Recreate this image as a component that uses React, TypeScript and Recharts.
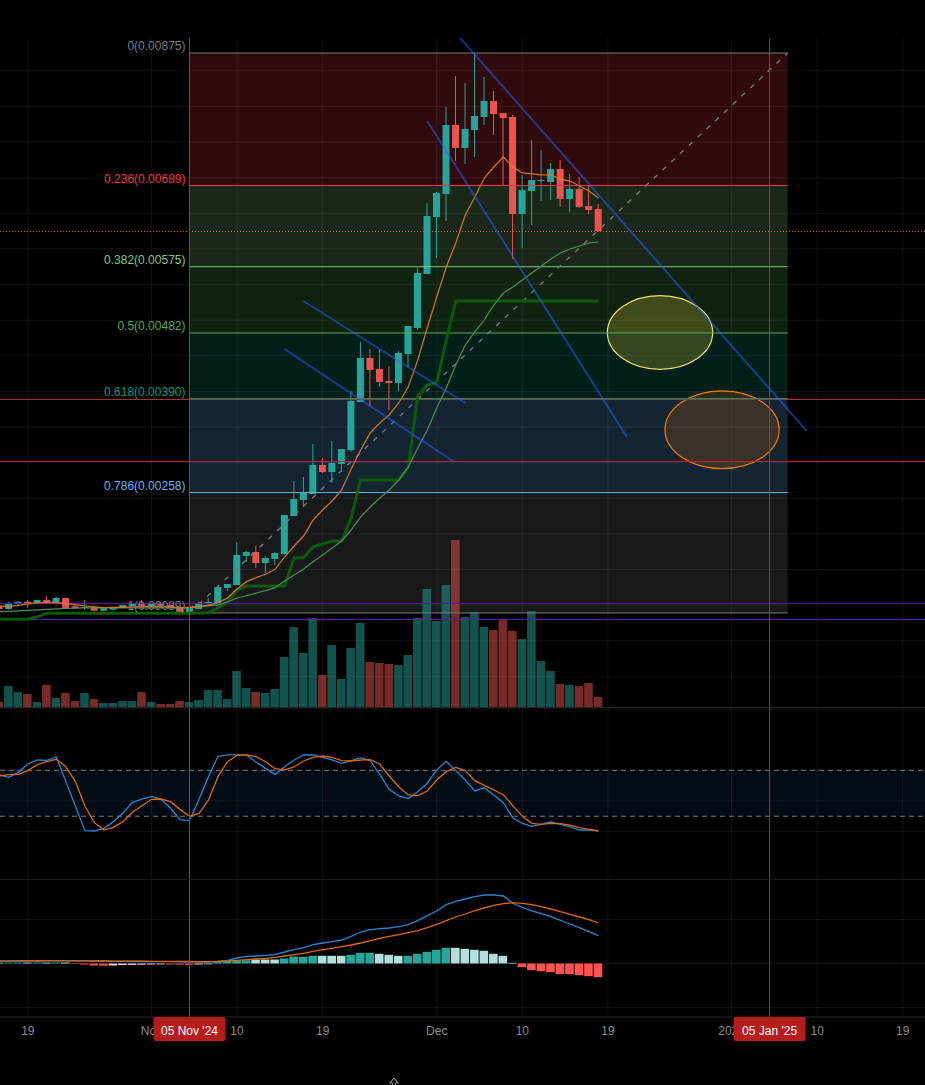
import React from "react";
import {
  Bar,
  CartesianGrid,
  Cell,
  ComposedChart,
  Line,
  ReferenceArea,
  ReferenceDot,
  ReferenceLine,
  XAxis,
  YAxis,
} from "recharts";

// Day offset from 05 Nov '24 for every daily candle
const days = [
  -20, -19, -18, -17, -16, -15, -14, -13, -12, -11,
  -10, -9, -8, -7, -6, -5, -4, -3, -2, -1,
  0, 1, 2, 3, 4, 5, 6, 7, 8, 9,
  10, 11, 12, 13, 14, 15, 16, 17, 18, 19,
  20, 21, 22, 23, 24, 25, 26, 27, 28, 29,
  30, 31, 32, 33, 34, 35, 36, 37, 38, 39,
  40, 41, 42, 43,
];

// Prices in millionths (6251 = 0.006251)
const opens = [
  988, 946, 1020, 1048, 1016, 1072, 1044, 1100, 984, 960,
  974, 922, 936, 960, 988, 1030, 984, 1016, 1002, 974,
  904, 946, 1030, 1030, 1240, 1282, 1690, 1746, 1591, 1647,
  1718, 2251, 2475, 2560, 2967, 2868, 2981, 3177, 3851, 4469,
  4314, 4146, 4118, 4525, 4890, 5648, 6448, 6771, 7739, 7417,
  7669, 7852, 8076, 7908, 7852, 6490, 6813, 6953, 6939, 7122,
  6701, 6841, 6602, 6560,
];
const highs = [
  1002, 1048, 1058, 1072, 1072, 1128, 1128, 1100, 1016, 1072,
  988, 956, 974, 1002, 1030, 1072, 1020, 1044, 1002, 974,
  960, 1053, 1100, 1254, 1296, 1886, 1760, 1830, 1689, 1746,
  2265, 2742, 2798, 3262, 3065, 3304, 3191, 4006, 4693, 4595,
  4595, 4356, 4567, 4918, 5732, 6644, 6799, 7992, 8427, 8329,
  8736, 8413, 8217, 7908, 7880, 7038, 7529, 7388, 7206, 7248,
  7052, 7010, 6897, 6630,
];
const lows = [
  932, 936, 984, 964, 1016, 1016, 1034, 960, 942, 932,
  914, 922, 922, 960, 988, 978, 984, 964, 960, 904,
  904, 946, 1002, 1030, 1198, 1282, 1605, 1521, 1451, 1563,
  1704, 2251, 2377, 2560, 2854, 2714, 2868, 3149, 3851, 3795,
  4062, 3739, 4006, 4342, 4862, 5648, 5872, 6392, 7234, 7192,
  7290, 7739, 7599, 6897, 5858, 6013, 6336, 6673, 6687, 6588,
  6518, 6574, 6490, 6237,
];
const closes = [
  946, 1030, 1044, 1020, 1072, 1044, 1100, 960, 960, 974,
  922, 956, 974, 1002, 1030, 992, 1016, 992, 960, 904,
  960, 1030, 1044, 1254, 1296, 1703, 1746, 1591, 1661, 1732,
  2265, 2489, 2574, 2967, 2868, 2995, 3191, 3865, 4469, 4300,
  4132, 4118, 4539, 4918, 5662, 6462, 6785, 7739, 7417, 7683,
  7866, 8076, 7894, 7838, 6490, 6827, 6967, 6967, 7122, 6701,
  6841, 6588, 6546, 6251,
];
const volumes = [
  5, 21, 15, 13, 5, 22, 9, 14, 6, 14,
  8, 4, 4, 6, 6, 15, 5, 3, 3, 6,
  5, 7, 17, 17, 8, 36, 19, 15, 14, 18,
  50, 80, 54, 89, 32, 62, 28, 59, 84, 45,
  44, 43, 42, 52, 89, 118, 86, 122, 167, 90,
  95, 80, 77, 88, 76, 68, 96, 46, 36, 23,
  22, 21, 24, 10,
];
const fastMa = [
  988, 978, 995, 1016, 1030, 1040, 1033, 1026, 1006, 988,
  974, 964, 967, 970, 974, 978, 978, 978, 971, 964,
  970, 981, 998, 1034, 1100, 1226, 1329, 1385, 1433, 1503,
  1676, 1830, 1970, 2195, 2335, 2462, 2616, 2911, 3177, 3416,
  3556, 3669, 3837, 4062, 4441, 4890, 5325, 5746, 6083, 6476,
  6729, 6995, 7150, 7290, 7150, 7066, 7052, 7038, 7038, 6981,
  6953, 6883, 6813, 6715,
];
const slowMa = [
  908, 913, 918, 925, 932, 939, 946, 953, 957, 960,
  960, 960, 960, 960, 960, 960, 960, 960, 960, 960,
  964, 974, 988, 1002, 1044, 1100, 1132, 1170, 1203, 1245,
  1339, 1423, 1507, 1610, 1704, 1802, 1900, 2055, 2237, 2377,
  2504, 2616, 2756, 2939, 3206, 3458, 3767, 4048, 4371, 4652,
  4834, 5002, 5213, 5381, 5466, 5564, 5662, 5760, 5858, 5943,
  5999, 6041, 6083, 6097,
];
const stepMa = [
  801, 801, 801, 801, 838, 885, 885, 885, 885, 885,
  885, 885, 885, 885, 885, 885, 885, 885, 885, 885,
  885, 885, 894, 960, 1048, 1212, 1268, 1268, 1268, 1268,
  1268, 1666, 1666, 1820, 1858, 1900, 1900, 2223, 2756, 2756,
  2756, 2756, 2756, 2925, 3935, 4090, 4118, 4722, 5269, 5269,
  5269, 5269, 5269, 5269, 5269, 5269, 5269, 5269, 5269, 5269,
  5269, 5269, 5269, 5269,
];
const stochK = [
  73.8, 70.8, 77.3, 88.2, 93.4, 93, 97.3, 65.2, 33.4, 1.2,
  0.8, 4.3, 13, 24.3, 38.2, 42.5, 46, 42.1, 30.8, 15.6,
  14.3, 42.1, 71.7, 98.2, 100, 100, 100, 90.8, 82.5, 74.7,
  84.7, 93.4, 99.9, 100, 96.9, 93.4, 89, 92.5, 96.5, 92.5,
  74.7, 55.2, 46.5, 43, 52.1, 63, 80.4, 91.7, 79.5, 67.3,
  53, 57.3, 47.8, 37.8, 17.8, 10.8, 6.9, 9.9, 12.5, 9.5,
  6.5, 2.1, 2.1, 1.2,
];
const stochD = [
  72.5, 74.3, 74.7, 79.5, 87.3, 91.2, 94.3, 84.7, 65.2, 33.4,
  11.7, 2.1, 5.6, 13, 25.2, 33.8, 42.1, 42.5, 39, 29,
  19.9, 23.8, 41.2, 71.7, 91.2, 99.5, 100, 97.8, 91.2, 82.1,
  80.4, 84.3, 92.1, 96.9, 98.6, 96.9, 92.5, 92.1, 93.4, 93.8,
  88.2, 72.5, 58.6, 47.8, 46.9, 53, 67.3, 78.2, 83.8, 79.5,
  66.5, 60.4, 54.3, 48.2, 33.8, 19.9, 10.8, 9.5, 10.8, 10.4,
  8.6, 5.1, 3, 0.8,
];
// MACD values in units of 0.00001
const macdLine = [
  2.7, 2.7, 2.8, 2.8, 2.8, 2.9, 2.9, 2.8, 2.7, 2.6,
  2.5, 2.3, 2.2, 2.1, 2, 2, 1.9, 1.9, 1.8, 1.7,
  1.6, 1.5, 1.5, 2.2, 3.2, 5.5, 7.2, 7.5, 8.2, 8.8,
  11.5, 13.8, 15.8, 18.8, 20.5, 21.8, 23.5, 27.2, 31.5, 33.8,
  34.8, 35.5, 36.8, 38.8, 42.8, 47.8, 52.5, 58.8, 62.2, 64.5,
  66.8, 68.5, 68.5, 67.5, 60.2, 56.2, 52.5, 49.8, 46.8, 43.2,
  39.5, 35.8, 31.8, 27.8,
];
const signalLine = [
  2.3, 2.4, 2.4, 2.5, 2.5, 2.6, 2.6, 2.6, 2.6, 2.6,
  2.5, 2.5, 2.4, 2.4, 2.3, 2.3, 2.2, 2.2, 2.1, 2.1,
  2, 1.9, 1.8, 2.2, 2.5, 3.2, 3.8, 4.5, 5.2, 6.2,
  7.5, 8.8, 10.2, 12.2, 13.8, 15.2, 16.8, 18.5, 20.5, 22.8,
  25.2, 27.2, 28.8, 30.8, 32.8, 35.8, 39.2, 42.8, 46.5, 49.5,
  52.8, 55.5, 58.2, 59.8, 60.8, 60.2, 58.8, 56.8, 54.5, 51.8,
  49.2, 46.5, 43.8, 40.5,
];
const histogram = [
  0.8, 0.9, 1, 0.9, 1, 0.9, 1, 0.9, -0.5, -1,
  -2, -2.2, -2, -1.6, -1.4, -1.2, -1, -0.9, -1, -1.1,
  -1.3, -1, -0.8, 2, 2.7, 3.3, 3.3, 4, 4, 4,
  5, 7, 6.7, 7.7, 7.7, 7.7, 7.7, 8.7, 10.7, 10.7,
  9.7, 8.7, 7.7, 7.7, 9.7, 11.7, 13.7, 15.7, 15.7, 14.7,
  13.7, 12.7, 9.7, 7.7, 0.7, -3.7, -6.7, -7.7, -8.7, -10.7,
  -10.7, -11.7, -12.7, -13.7,
];
// Momentum state of each histogram bar: gu = growing above zero, fu = falling above zero,
// gd = growing below zero, fd = falling below zero
const histogramState = [
  "fu", "gu", "gu", "fu", "gu", "fu", "gu", "fu", "fd", "fd",
  "fd", "fd", "gd", "gd", "gd", "gd", "gd", "gd", "fd", "fd",
  "fd", "gd", "gd", "gu", "gu", "gu", "gu", "fu", "fu", "fu",
  "gu", "gu", "gu", "gu", "fu", "fu", "fu", "gu", "gu", "gu",
  "fu", "fu", "fu", "gu", "gu", "gu", "gu", "gu", "fu", "fu",
  "fu", "fu", "fu", "fu", "fu", "fd", "fd", "fd", "fd", "fd",
  "fd", "fd", "fd", "fd",
];

const fibLevels = [
  { label: "0(0.00875)", price: 8750, color: "#787b86" },
  { label: "0.236(0.00689)", price: 6890, color: "#f23645" },
  { label: "0.382(0.00575)", price: 5750, color: "#81c784" },
  { label: "0.5(0.00482)", price: 4820, color: "#4caf50" },
  { label: "0.618(0.00390)", price: 3900, color: "#089981" },
  { label: "0.786(0.00258)", price: 2580, color: "#64b5f6" },
  { label: "1(0.00089)", price: 890, color: "#787b86" },
];
const fibStartDay = 0;
const fibEndDay = 62.9;

const priceGrid = [0, 500, 1000, 1500, 2000, 2500, 3000, 3500, 4000, 4500, 5000, 5500, 6000, 6500, 7000, 7500, 8000, 8500];
const dayGrid = [-17, -4, 5, 14, 26, 35, 44, 57, 66, 75];
const tickDays = [-17, -4, 0, 5, 14, 26, 35, 44, 57, 61, 66, 75];
const tickLabels = ["19", "Nov", "05 Nov '24", "10", "19", "Dec", "10", "19", "2025", "05 Jan '25", "10", "19"];
const markedDays = [0, 61];

const trendLines = [
  { from: [28.46, 8961], to: [64.92, 3444] },
  { from: [25, 7795], to: [46, 3360] },
  { from: [11.97, 5269], to: [28.99, 3837] },
  { from: [9.98, 4595], to: [27.84, 3009] },
];
const zones = [
  { x: [43.94, 55.01], y: [4310, 5343], stroke: "#efe36a", fill: "#ffeb3b", alpha: 0.2 },
  { x: [50, 62], y: [2915, 4006], stroke: "#f57c00", fill: "#f57c00", alpha: 0.17 },
];

const rows = days.map((day, i) => ({
  day,
  open: opens[i],
  high: highs[i],
  low: lows[i],
  close: closes[i],
  volume: volumes[i],
  fast: fastMa[i],
  slow: slowMa[i],
  step: stepMa[i],
  k: stochK[i],
  d: stochD[i],
  macd: macdLine[i],
  signal: signalLine[i],
  hist: histogram[i],
  state: histogramState[i],
}));

const WIDTH = 925;
const X_DOMAIN: [number, number] = [-19.926, 77.34];
const UP = "#26a69a";
const DOWN = "#ef5350";
const GRID = "rgba(240,243,250,0.075)";
const MARK = "#b03030";
const FONT = "'Liberation Sans', Arial, sans-serif";
const histColors: Record<string, string> = { gu: "#26a69a", fu: "#b2dfdb", gd: "#ffcdd2", fd: "#ff5252" };
const M = { top: 0, right: 0, bottom: 0, left: 0 };

const Candle = (props: any) => {
  const { x, y, width, height, payload } = props;
  const { open, high, low, close } = payload;
  const k = height / (high - low || 1);
  const top = y + (high - Math.max(open, close)) * k;
  const bodyH = Math.max(1, Math.abs(open - close) * k);
  const color = close >= open ? UP : DOWN;
  const cx = x + width / 2;
  return (
    <g>
      <line x1={cx} x2={cx} y1={y} y2={y + height} stroke={color} strokeWidth={1} />
      <rect x={x} y={top} width={width} height={bodyH} fill={color} />
    </g>
  );
};

const FibLabel = (level: { label: string; color: string }) => (p: any) =>
  (
    <text x={p.cx - 4} y={p.cy - 3} textAnchor="end" fontSize={12} fontFamily={FONT} fill={level.color}>
      {level.label}
    </text>
  );

const Ellipse = (stroke: string, fill: string, alpha: number) => (p: any) =>
  (
    <ellipse
      cx={p.x + p.width / 2}
      cy={p.y + p.height / 2}
      rx={p.width / 2}
      ry={p.height / 2}
      stroke={stroke}
      strokeWidth={1.2}
      fill={fill}
      fillOpacity={alpha}
    />
  );

const TimeTick = (p: any) => {
  const i = tickDays.indexOf(p.payload.value);
  const label = tickLabels[i];
  const marked = markedDays.includes(p.payload.value);
  if (marked) {
    return (
      <g>
        <rect x={p.x - 36} y={1017 - 880} width={72} height={24} rx={2} fill="#b71c1c" />
        <text x={p.x} y={1035 - 880} textAnchor="middle" fontSize={12} fontFamily={FONT} fill="#ffffff">
          {label}
        </text>
      </g>
    );
  }
  return (
    <text x={p.x} y={1035 - 880} textAnchor="middle" fontSize={12} fontFamily={FONT} fill="#8c8c8c">
      {label}
    </text>
  );
};

const layer = (top: number, height: number): React.CSSProperties => ({ position: "absolute", left: 0, top, width: WIDTH, height });

const priceAxes = (
  <>
    <XAxis xAxisId={0} dataKey="day" type="number" domain={X_DOMAIN} allowDataOverflow hide />
    <YAxis yAxisId="p" type="number" domain={[-430.2, 8960.6]} allowDataOverflow hide />
  </>
);

export default function App() {
  return (
    <div style={{ position: "fixed", left: 0, top: 0, width: WIDTH, height: 1085, background: "#000", overflow: "hidden" }}>
      <style>{"html,body{margin:0;background:#000}"}</style>

      {/* grid and Fibonacci zones */}
      <div style={layer(38, 669)}>
        <ComposedChart width={WIDTH} height={669} data={rows} margin={M}>
          {priceAxes}
          <CartesianGrid yAxisId="p" stroke={GRID} horizontalValues={priceGrid} verticalValues={dayGrid} />
          {fibLevels.slice(0, -1).map((level, i) => (
            <ReferenceArea
              key={level.label}
              yAxisId="p"
              x1={fibStartDay}
              x2={fibEndDay}
              y1={fibLevels[i + 1].price}
              y2={level.price}
              fill={fibLevels[i + 1].color}
              fillOpacity={0.2}
              stroke="none"
              ifOverflow="visible"
            />
          ))}
        </ComposedChart>
      </div>

      {/* volume */}
      <div style={layer(38, 669)}>
        <ComposedChart width={WIDTH} height={669} data={rows} margin={M}>
          <XAxis dataKey="day" type="number" domain={X_DOMAIN} allowDataOverflow hide />
          <YAxis type="number" domain={[0, 669]} allowDataOverflow hide />
          <Bar dataKey="volume" barSize={8.6} isAnimationActive={false}>
            {rows.map((r) => (
              <Cell key={r.day} fill={r.close >= r.open ? UP : DOWN} fillOpacity={0.5} />
            ))}
          </Bar>
        </ComposedChart>
      </div>

      {/* candles, averages and drawings */}
      <div style={layer(38, 669)}>
        <ComposedChart width={WIDTH} height={669} data={rows} margin={M}>
          {priceAxes}
          {fibLevels.map((level) => (
            <ReferenceLine
              key={level.label}
              yAxisId="p"
              segment={[
                { x: fibStartDay, y: level.price },
                { x: fibEndDay, y: level.price },
              ]}
              stroke={level.color}
              strokeWidth={1}
              ifOverflow="visible"
            />
          ))}
          <ReferenceLine
            yAxisId="p"
            segment={[
              { x: fibStartDay, y: 890 },
              { x: fibEndDay, y: 8750 },
            ]}
            stroke="#787b86"
            strokeWidth={1.3}
            strokeDasharray="5 7"
            ifOverflow="visible"
          />
          <ReferenceLine yAxisId="p" y={3886} stroke="#a83227" />
          <ReferenceLine yAxisId="p" y={3016} stroke="#c62020" />
          <ReferenceLine yAxisId="p" y={1023} stroke="#5a169c" />
          <ReferenceLine yAxisId="p" y={798} stroke="#5a169c" />
          <Bar yAxisId="p" dataKey={(r: any) => [r.low, r.high]} barSize={7} shape={Candle} isAnimationActive={false} />
          <Line yAxisId="p" dataKey="step" stroke="#0a5c0a" strokeWidth={3} dot={false} isAnimationActive={false} />
          <Line yAxisId="p" dataKey="slow" stroke="#4d8f52" strokeWidth={1.2} dot={false} isAnimationActive={false} />
          <Line yAxisId="p" dataKey="fast" stroke="#e07a22" strokeOpacity={0.9} strokeWidth={1.3} dot={false} isAnimationActive={false} />
          <ReferenceLine yAxisId="p" y={6244} stroke="#ef5350" strokeDasharray="1 2" />
          {trendLines.map((t) => (
            <ReferenceLine
              key={t.from[0]}
              yAxisId="p"
              segment={[
                { x: t.from[0], y: t.from[1] },
                { x: t.to[0], y: t.to[1] },
              ]}
              stroke="#2962ff"
              strokeOpacity={0.5}
              strokeWidth={2}
              ifOverflow="visible"
            />
          ))}
          {zones.map((z) => (
            <ReferenceArea
              key={z.stroke}
              yAxisId="p"
              x1={z.x[0]}
              x2={z.x[1]}
              y1={z.y[0]}
              y2={z.y[1]}
              shape={Ellipse(z.stroke, z.fill, z.alpha)}
              ifOverflow="visible"
            />
          ))}
          {markedDays.map((d) => (
            <ReferenceLine key={d} yAxisId="p" x={d} stroke={MARK} />
          ))}
          {fibLevels.map((level) => (
            <ReferenceDot
              key={level.label}
              yAxisId="p"
              x={fibStartDay}
              y={level.price}
              r={0}
              shape={FibLabel(level)}
              ifOverflow="visible"
            />
          ))}
        </ComposedChart>
      </div>

      <div style={{ position: "absolute", left: 0, top: 707, width: WIDTH, height: 1, background: "#262626" }} />

      {/* stochastic RSI */}
      <div style={layer(708, 172)}>
        <ComposedChart width={WIDTH} height={172} data={rows} margin={M}>
          <XAxis dataKey="day" type="number" domain={X_DOMAIN} allowDataOverflow hide />
          <YAxis type="number" domain={[-63.1, 161.2]} allowDataOverflow hide />
          <CartesianGrid stroke={GRID} horizontalValues={[0, 40, 80, 120, 160]} verticalValues={dayGrid} />
          <ReferenceArea y1={20} y2={80} fill="#2196f3" fillOpacity={0.08} stroke="none" />
          <ReferenceLine y={80} stroke="#787b86" strokeDasharray="5 4" />
          <ReferenceLine y={20} stroke="#787b86" strokeDasharray="5 4" />
          <Line dataKey="k" stroke="#2188d9" strokeWidth={1.3} dot={false} isAnimationActive={false} />
          <Line dataKey="d" stroke="#e0670f" strokeWidth={1.3} dot={false} isAnimationActive={false} />
          {markedDays.map((d) => (
            <ReferenceLine key={d} x={d} stroke={MARK} />
          ))}
        </ComposedChart>
      </div>

      <div style={{ position: "absolute", left: 0, top: 879, width: WIDTH, height: 1, background: "#1c1c1c" }} />

      {/* MACD and time axis */}
      <div style={layer(880, 205)}>
        <ComposedChart width={WIDTH} height={205} data={rows} margin={M}>
          <XAxis
            dataKey="day"
            type="number"
            domain={X_DOMAIN}
            allowDataOverflow
            ticks={tickDays}
            interval={0}
            height={68}
            tickLine={false}
            axisLine={{ stroke: "#2a2a2a" }}
            tick={TimeTick}
          />
          <YAxis type="number" domain={[-53.5, 83.5]} allowDataOverflow hide />
          <CartesianGrid stroke={GRID} horizontalValues={[-44, 0, 44]} verticalValues={dayGrid} />
          <Bar dataKey="hist" barSize={8.6} isAnimationActive={false}>
            {rows.map((r) => (
              <Cell key={r.day} fill={histColors[r.state]} />
            ))}
          </Bar>
          <Line dataKey="macd" stroke="#2188d9" strokeWidth={1.3} dot={false} isAnimationActive={false} />
          <Line dataKey="signal" stroke="#e0670f" strokeWidth={1.3} dot={false} isAnimationActive={false} />
          {markedDays.map((d) => (
            <ReferenceLine key={d} x={d} stroke={MARK} />
          ))}
        </ComposedChart>
      </div>

      <svg style={{ position: "absolute", left: 388, top: 1077, width: 12, height: 8 }} viewBox="0 0 12 8">
        <path d="M6 1 L2 6 H4.5 V8 M6 1 L10 6 H7.5 V8" fill="none" stroke="#8a8a8a" strokeWidth={1.2} />
      </svg>
    </div>
  );
}
